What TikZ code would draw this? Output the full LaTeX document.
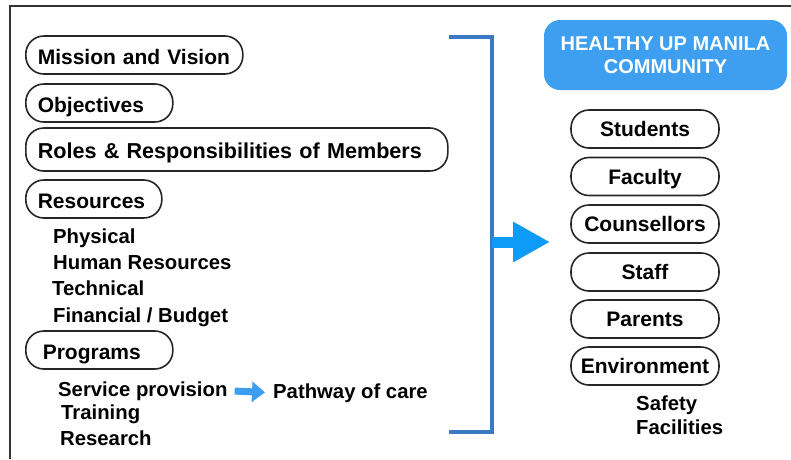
\documentclass[tikz,border=0pt]{standalone}
\usepackage{fontspec}
\setmainfont{Liberation Sans}
\usetikzlibrary{arrows.meta}
\definecolor{brkblue}{HTML}{3B79C3}
\definecolor{arrblue}{HTML}{0E9AF7}
\definecolor{smallblue}{HTML}{3C9EF0}
\definecolor{boxblue}{HTML}{3E9FF0}
\definecolor{pillline}{HTML}{262626}
\tikzset{
	pill/.style={draw=pillline, line width=1.6pt, rounded corners=18pt, minimum height=38pt, inner ysep=0pt, font=\bfseries\fontsize{21}{25}\selectfont},
	lpill/.style={pill, anchor=west, inner xsep=12pt, align=left, text height=18pt, text depth=0pt},
	rpill/.style={pill, text width=136pt, inner xsep=6pt, align=center, text height=15pt, text depth=0pt},
	item/.style={anchor=base west, inner sep=0pt, font=\bfseries\fontsize{20.3}{24}\selectfont},
	community/.style={fill=boxblue, text=white, rounded corners=16pt, minimum width=243pt, minimum height=70pt, align=center, font=\bfseries\fontsize{20}{23}\selectfont},
	bracket/.style={draw=brkblue, line width=4pt},
	bigarrow/.style={draw=arrblue, line width=11pt, -{Triangle[length=37pt,width=38pt]}},
	smallarrow/.style={draw=smallblue, line width=7pt, -{Triangle[length=13pt,width=20pt]}, shorten <=7pt, shorten >=8pt},
	frame/.style={draw=black!80, line width=2.5pt}
}

\begin{document}
\begin{tikzpicture}[x=1pt, y=-1pt]
	%%%%% START %%%%%
	\useasboundingbox (0,0) rectangle (791,459);
	\draw[frame] (10,459) -- (10,6) -- (791,6);
	
	% left column
	\node[lpill, text width=193pt] (mission) at (25,55) {Mission and Vision};
	\node[lpill, text width=123pt] (obj) at (25,103) {Objectives};
	\node[lpill, text width=398pt, minimum height=43pt, font=\bfseries\fontsize{21.6}{25}\selectfont] (roles) at (25,149.5) {Roles \& Responsibilities of Members};
	\node[lpill, text width=112pt] (res) at (25,199) {Resources};
	
	\node[item] (phys) at (53,243) {Physical};
	\node[item] (human) at (53,269) {Human Resources};
	\node[item] (tech) at (52,295) {Technical};
	\node[item] (fin) at (53,322) {Financial / Budget};
	
	\node[lpill, text width=113pt, inner xsep=17pt] (prog) at (25,350) {Programs};
	\node[item] (serv) at (58,396) {Service provision};
	\node[item] (train) at (61,419) {Training};
	\node[item] (research) at (60,445) {Research};
	\node[item] (path) at (273,398) {Pathway of care};
	\draw[smallarrow] (serv.east) -- (path.west);
	
	% bracket and arrow
	\coordinate (btop) at (449,37);
	\coordinate (bbot) at (449,432);
	\coordinate (bmid) at (492,242);
	\coordinate (tip) at (550,242);
	\draw[bracket] (btop) -- (492,37) -- (492,432) -- (bbot);
	\draw[bigarrow] (bmid) -- (tip);
	
	% right column
	\node[community] (comm) at (665.5,55) {HEALTHY UP MANILA\\COMMUNITY};
	\node[rpill] (stud) at (645,129) {Students};
	\node[rpill] (fac) at (645,176.5) {Faculty};
	\node[rpill] (couns) at (645,224) {Counsellors};
	\node[rpill] (staff) at (645,272) {Staff};
	\node[rpill] (parents) at (645,319) {Parents};
	\node[rpill] (env) at (645,366) {Environment};
	\node[item] (safety) at (636,410) {Safety};
	\node[item] (facil) at (636,434) {Facilities};
	%%%%% END %%%%%
\end{tikzpicture}
\end{document}
